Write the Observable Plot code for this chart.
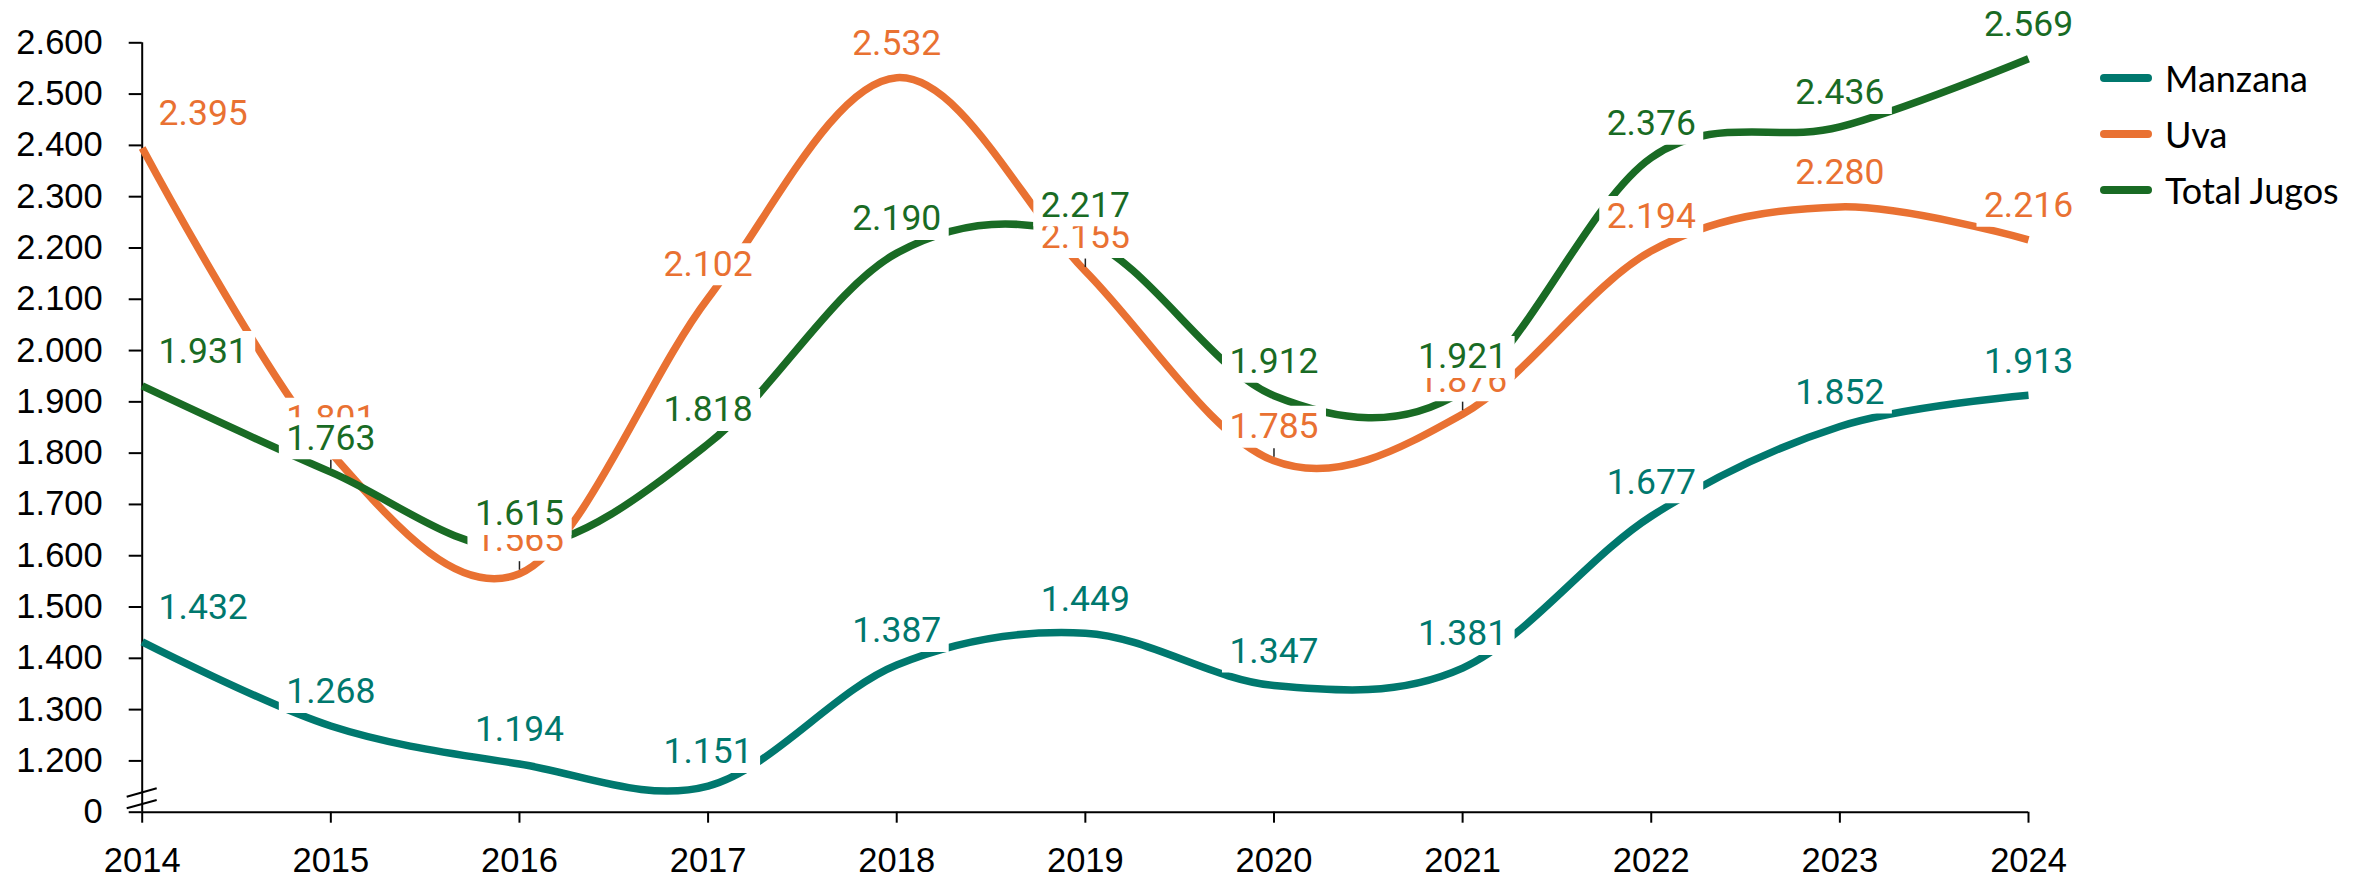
<!DOCTYPE html>
<html>
<head>
<meta charset="utf-8">
<script src="https://cdn.jsdelivr.net/npm/d3@7"></script>
<script src="https://cdn.jsdelivr.net/npm/@observablehq/plot@0.6"></script>
<style>
  html, body { margin: 0; padding: 0; background: #fff; }
  #wrap { position: relative; width: 2367px; height: 876px; }
  #legend { position: absolute; left: 2100px; top: 50px; font-family: Lato, "Noto Sans", sans-serif; font-size: 36px; color: #000; }
  #legend .row { display: flex; align-items: center; height: 56px; }
  #legend .sw { display: inline-block; width: 52px; height: 8px; border-radius: 4px; margin-right: 13px; }
</style>
</head>
<body>
<div id="wrap"><div id="chart"></div><div id="legend"></div></div>
<script>
// ---- data ----
const years = [2014, 2015, 2016, 2017, 2018, 2019, 2020, 2021, 2022, 2023, 2024];
const manzana = [1432, 1268, 1194, 1151, 1387, 1449, 1347, 1381, 1677, 1852, 1913];
const uva = [2395, 1801, 1565, 2102, 2532, 2155, 1785, 1876, 2194, 2280, 2216];
const totalJugos = [1931, 1763, 1615, 1818, 2190, 2217, 1912, 1921, 2376, 2436, 2569];
const seriesNames = ["Manzana", "Uva", "Total Jugos"];
const seriesColors = ["#00786E", "#E97132", "#196B24"];
const yTicks = [1100, 1200, 1300, 1400, 1500, 1600, 1700, 1800, 1900, 2000, 2100, 2200, 2300, 2400, 2500, 2600];
const yTickLabels = ["0", "1.200", "1.300", "1.400", "1.500", "1.600", "1.700", "1.800", "1.900", "2.000", "2.100", "2.200", "2.300", "2.400", "2.500", "2.600"];
const leaderPoints = [["Total Jugos", 2015], ["Uva", 2016], ["Uva", 2019], ["Uva", 2020], ["Uva", 2021]];

// ---- build table ----
const seriesValues = [manzana, uva, totalJugos];
const fmt = d3.formatLocale({decimal: ",", thousands: ".", grouping: [3], currency: ["", ""]}).format(",");
const table = seriesNames.map((s, i) => years.map((yr, j) => ({series: s, year: yr, value: seriesValues[i][j], color: seriesColors[i]})));
const leaders = leaderPoints.map(([s, yr]) => table[seriesNames.indexOf(s)].find(d => d.year === yr));

const boxSymbol = {draw(ctx) { ctx.rect(-52, -21, 104, 42); }};
const leaderSymbol = {draw(ctx) { ctx.moveTo(0, -12.5); ctx.lineTo(0, -4); }};

const labelMarks = [];
table.forEach((rows, i) => {
  const first = rows.filter(d => d.year === years[0]);
  const rest = rows.filter(d => d.year !== years[0]);
  [[first, 61], [rest, 0]].forEach(([rs, dx]) => {
    labelMarks.push(Plot.dot(rs, {x: "year", y: "value", symbol: boxSymbol, fill: "white", stroke: "none", dx, dy: -34}));
    labelMarks.push(Plot.text(rs, {x: "year", y: "value", text: d => fmt(d.value), fill: seriesColors[i], fontSize: 35.5, fontFamily: "Roboto, sans-serif", lineAnchor: "middle", dx, dy: -34}));
  });
});

const breakMarks = (index, scales, values, dimensions, context) => {
  const ns = "http://www.w3.org/2000/svg";
  const g = context.document.createElementNS(ns, "g");
  const x0 = scales.x(years[0]), y0 = scales.y(yTicks[0]);
  [[-3.4, -11.7], [-15, -23.4]].forEach(([a, b]) => {
    const l = context.document.createElementNS(ns, "line");
    l.setAttribute("x1", x0 - 15); l.setAttribute("y1", y0 + a);
    l.setAttribute("x2", x0 + 15); l.setAttribute("y2", y0 + b);
    l.setAttribute("stroke", "#000"); l.setAttribute("stroke-width", 2);
    g.appendChild(l);
  });
  return g;
};

const chart = Plot.plot({
  width: 2367,
  height: 876,
  marginLeft: 141.7,
  marginRight: 339,
  marginTop: 42.3,
  marginBottom: 64.3,
  style: {background: "white", color: "black", fontFamily: "'Liberation Sans', Arial, sans-serif", fontSize: "34px", overflow: "visible"},
  x: {domain: [years[0], years[years.length - 1]]},
  y: {domain: [yTicks[0], yTicks[yTicks.length - 1]]},
  marks: [
    Plot.axisY({ticks: yTicks, tickFormat: d => yTickLabels[yTicks.indexOf(d)], tickSize: 13, tickPadding: 26.5, label: null, strokeWidth: 2, fontSize: 34.5}),
    Plot.axisX({ticks: years, tickFormat: d => String(d), tickSize: 11, tickPadding: 24, label: null, strokeWidth: 2, fontSize: 34.5}),
    Plot.ruleX([years[0]], {y1: yTicks[0], y2: yTicks[yTicks.length - 1], stroke: "black", strokeWidth: 2}),
    Plot.ruleY([yTicks[0]], {stroke: "black", strokeWidth: 2}),
    breakMarks,
    ...table.map((rows, i) => Plot.line(rows, {x: "year", y: "value", stroke: seriesColors[i], strokeWidth: 7.5, curve: "cardinal", strokeLinecap: "butt"})),
    ...labelMarks,
    Plot.dot(leaders, {x: "year", y: "value", symbol: leaderSymbol, stroke: "#222", fill: "none", strokeWidth: 1.5})
  ]
});
document.getElementById("chart").appendChild(chart);

const legend = document.getElementById("legend");
seriesNames.forEach((s, i) => {
  const row = document.createElement("div");
  row.className = "row";
  const sw = document.createElement("span");
  sw.className = "sw";
  sw.style.background = seriesColors[i];
  const t = document.createElement("span");
  t.textContent = s;
  row.appendChild(sw); row.appendChild(t);
  legend.appendChild(row);
});
</script>
</body>
</html>
